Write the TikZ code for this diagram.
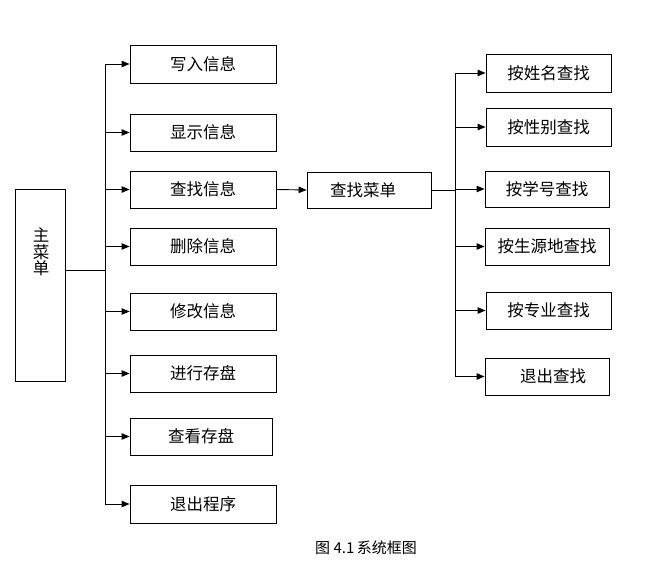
\documentclass[tikz,border=0pt]{standalone}
\usepackage{fontspec}
\newfontfamily\cjk{Noto Sans CJK SC}
\usetikzlibrary{arrows.meta}
\begin{document}
\begin{tikzpicture}[x=1pt,y=-1pt,
  box/.style={draw,line width=0.9pt,rectangle,inner sep=0pt,font=\cjk\fontsize{16.5}{17}\selectfont},
  arr/.style={line width=0.9pt,-{Triangle[length=8pt,width=6.5pt]}},
  ln/.style={line width=0.9pt}]
\useasboundingbox (0,0) rectangle (659,575);
% main box
\node[box,minimum width=50pt,minimum height=192pt,align=center] (main) at (40,285) {};
\node[font=\cjk\fontsize{16.5}{16.5}\selectfont,align=center,inner sep=0pt] (maint) at (41,252) {主\\菜\\单};
% left boxes
\node[box,minimum width=146pt,minimum height=38pt] (a1) at (203,64) {写入信息};
\node[box,minimum width=146pt,minimum height=37pt] (a2) at (203,132.5) {显示信息};
\node[box,minimum width=146pt,minimum height=37pt] (a3) at (203,189.5) {查找信息};
\node[box,minimum width=146pt,minimum height=37pt] (a4) at (203,246.5) {删除信息};
\node[box,minimum width=146pt,minimum height=37pt] (a5) at (203,311.5) {修改信息};
\node[box,minimum width=146pt,minimum height=37pt] (a6) at (203,373.5) {进行存盘};
\node[box,minimum width=142pt,minimum height=37pt] (a7) at (201,436.5) {查看存盘};
\node[box,minimum width=146pt,minimum height=38pt] (a8) at (203,504) {退出程序};
% search menu
\node[box,minimum width=124pt,minimum height=36pt] (menu) at (369,190) {\hspace{-12pt}查找菜单};
% right boxes
\node[box,minimum width=125pt,minimum height=38pt] (r1) at (548.5,73) {按姓名查找};
\node[box,minimum width=125pt,minimum height=38pt] (r2) at (548.5,127) {按性别查找};
\node[box,minimum width=124pt,minimum height=36pt] (r3) at (547,189) {按学号查找};
\node[box,minimum width=124pt,minimum height=37pt] (r4) at (547,246.5) {按生源地查找};
\node[box,minimum width=125pt,minimum height=37pt] (r5) at (548.5,310.5) {按专业查找};
\node[box,minimum width=124pt,minimum height=37pt] (r6) at (547,376.5) {\hspace{12pt}退出查找};
% connectors left
\coordinate (jL) at (105,270);
\draw[ln] (main.east |- jL) -- (jL);
\foreach \n in {a1,a2,a3,a4,a5,a6,a7,a8} \draw[arr] (jL) |- (\n.west);
\draw[arr] (a3.east) -- (menu.west);
% connectors right
\coordinate (jR) at (455,190);
\draw[ln] (menu.east) -- (jR);
\foreach \n in {r1,r2,r3,r4,r5,r6} \draw[arr] (jR) |- (\n.west);
% caption
\node[font=\cjk\fontsize{15}{15}\selectfont,inner sep=0pt] (cap) at (366,548) {图 4.1\,系统框图};
\end{tikzpicture}
\end{document}
